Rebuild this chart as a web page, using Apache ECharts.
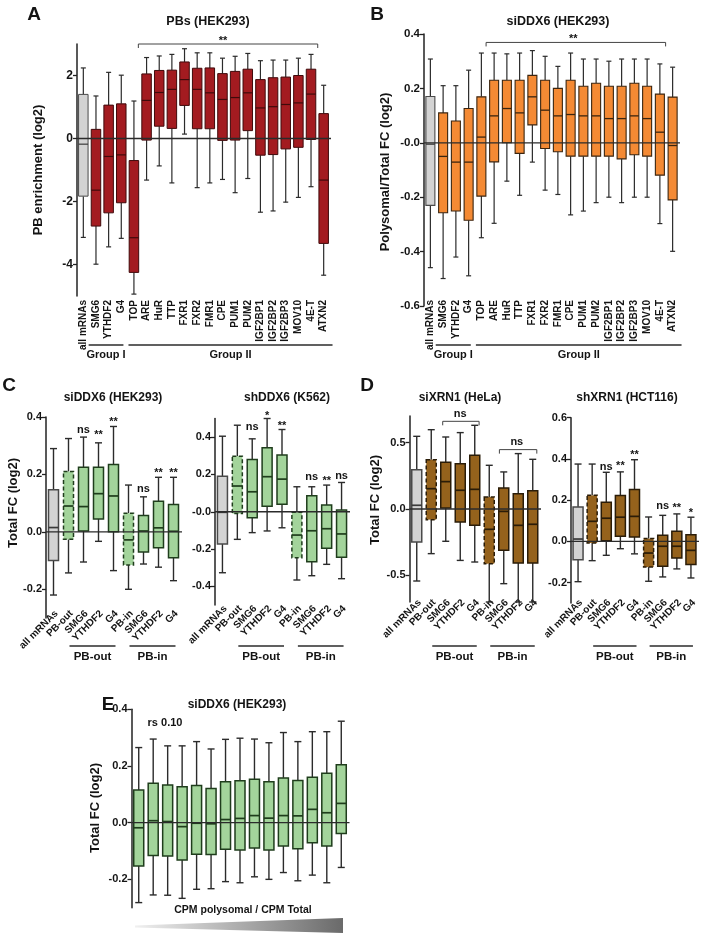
<!DOCTYPE html>
<html><head><meta charset="utf-8">
<script src="https://cdn.jsdelivr.net/npm/echarts@6/dist/echarts.min.js"></script>
<style>html,body{margin:0;padding:0;background:#fff}#c{width:706px;height:938px}</style>
</head><body><div id="c"></div>
<script>
// ---------- DATA ----------
// each box: [lower whisker, Q1, median, Q3, upper whisker]
const catsAB = ['all mRNAs','SMG6','YTHDF2','G4','TOP','ARE','HuR','TTP','FXR1','FXR2','FMR1','CPE','PUM1','PUM2','IGF2BP1','IGF2BP2','IGF2BP3','MOV10','4E-T','ATXN2'];
const boxesA = [
 [-3.14,-1.83,-0.18,1.40,2.24],[-3.99,-2.78,-1.64,0.29,1.35],[-3.44,-2.36,-0.57,1.06,2.10],[-3.17,-2.04,-0.52,1.10,2.01],
 [-4.94,-4.25,-3.15,-0.70,1.19],[-1.32,-0.05,1.21,2.05,2.57],[-0.87,0.39,1.46,2.16,2.62],[-1.41,0.32,1.56,2.17,2.67],
 [0.14,1.05,1.87,2.43,2.85],[-1.56,0.31,1.56,2.23,2.72],[-1.41,0.31,1.45,2.24,2.72],[-1.30,-0.06,1.24,2.06,2.55],
 [-1.72,-0.05,1.30,2.13,2.61],[-1.27,0.25,1.45,2.20,2.70],[-2.34,-0.53,0.97,1.87,2.47],[-2.30,-0.51,1.01,1.93,2.49],
 [-2.02,-0.33,1.08,1.95,2.49],[-1.87,-0.28,1.13,2.00,2.55],[-1.53,-0.03,1.41,2.20,2.67],[-4.34,-3.33,-1.32,0.79,1.69]
];
const boxesB = [
 [-0.459,-0.230,-0.005,0.170,0.308],[-0.499,-0.257,-0.050,0.110,0.210],[-0.420,-0.251,-0.071,0.080,0.210],[-0.489,-0.285,-0.071,0.126,0.267],
 [-0.349,-0.196,0.021,0.169,0.330],[-0.296,-0.070,0.099,0.230,0.330],[-0.141,0.000,0.126,0.230,0.327],[-0.193,-0.039,0.110,0.230,0.330],
 [-0.071,0.066,0.169,0.248,0.339],[-0.174,-0.021,0.120,0.230,0.318],[-0.190,-0.033,0.099,0.200,0.281],[-0.265,-0.049,0.104,0.230,0.330],
 [-0.251,-0.049,0.099,0.208,0.308],[-0.220,-0.049,0.099,0.219,0.308],[-0.200,-0.049,0.089,0.208,0.300],[-0.220,-0.059,0.089,0.208,0.308],
 [-0.200,-0.044,0.099,0.219,0.308],[-0.200,-0.049,0.089,0.208,0.308],[-0.297,-0.119,0.039,0.179,0.290],[-0.399,-0.210,-0.010,0.168,0.278]
];
const catsCD = ['all mRNAs','PB-out','SMG6','YTHDF2','G4','PB-in','SMG6','YTHDF2','G4'];
const boxesC1 = [
 [-0.22,-0.10,0.015,0.147,0.29],[-0.143,-0.026,0.09,0.21,0.325],[-0.105,0.003,0.088,0.225,0.33],[-0.033,0.045,0.133,0.225,0.31],
 [-0.135,0.0,0.125,0.235,0.367],[-0.2,-0.115,-0.028,0.065,0.163],[-0.112,-0.07,0.003,0.057,0.122],[-0.123,-0.055,0.014,0.107,0.19],
 [-0.17,-0.09,0.002,0.095,0.19]
];
const boxesC2 = [
 [-0.327,-0.173,-0.003,0.19,0.405],[-0.148,-0.01,0.138,0.298,0.464],[-0.112,-0.032,0.107,0.28,0.391],[-0.103,0.03,0.188,0.343,0.50],
 [-0.086,0.04,0.175,0.304,0.441],[-0.366,-0.246,-0.125,-0.003,0.134],[-0.343,-0.268,-0.102,0.086,0.134],[-0.282,-0.196,-0.091,0.036,0.143],
 [-0.359,-0.244,-0.119,0.009,0.157]
];
const boxesD1 = [
 [-0.542,-0.248,0.028,0.296,0.547],[-0.336,-0.08,0.153,0.371,0.597],[-0.243,0.008,0.206,0.351,0.542],[-0.387,-0.098,0.141,0.341,0.575],
 [-0.399,-0.123,0.148,0.404,0.63],[-0.70,-0.412,-0.153,0.09,0.329],[-0.562,-0.311,-0.018,0.158,0.279],[-0.70,-0.407,-0.123,0.115,0.417],
 [-0.70,-0.407,-0.115,0.138,0.374]
];
const boxesD2 = [
 [-0.196,-0.089,0.011,0.167,0.375],[-0.094,-0.008,0.097,0.223,0.375],[-0.068,0.003,0.112,0.189,0.335],[-0.036,0.024,0.117,0.222,0.337],
 [-0.061,0.021,0.121,0.251,0.396],[-0.194,-0.125,-0.057,0.013,0.118],[-0.173,-0.121,-0.024,0.029,0.126],[-0.134,-0.081,-0.024,0.049,0.133],
 [-0.178,-0.113,-0.044,0.032,0.117]
];
const catsE = ['1','2','3','4','5','6','7','8','9','10','11','12','13','14','15'];
const boxesE = [
 [-0.282,-0.153,-0.018,0.115,0.265],[-0.255,-0.116,0.007,0.139,0.295],[-0.256,-0.118,0.004,0.133,0.271],[-0.267,-0.132,-0.014,0.127,0.271],
 [-0.235,-0.111,-0.002,0.131,0.286],[-0.233,-0.112,-0.004,0.121,0.26],[-0.208,-0.094,0.011,0.144,0.294],[-0.212,-0.096,0.015,0.148,0.298],
 [-0.191,-0.089,0.025,0.153,0.295],[-0.2,-0.096,0.016,0.144,0.282],[-0.176,-0.082,0.025,0.158,0.318],[-0.205,-0.092,0.024,0.149,0.286],
 [-0.185,-0.071,0.047,0.16,0.321],[-0.212,-0.082,0.035,0.174,0.321],[-0.158,-0.038,0.068,0.204,0.358]
];
// tick values
const ticksA = [-4,-2,0,2];
const ticksB = [-0.6,-0.4,-0.2,0,0.2,0.4];
const ticksC1 = [-0.2,0,0.2,0.4];
const ticksC2 = [-0.4,-0.2,0,0.2,0.4];
const ticksD1 = [-0.5,0,0.5];
const ticksD2 = [-0.2,0,0.2,0.4,0.6];
const ticksE = [-0.2,0,0.2,0.4];
// significance marks: [category index, y value, text]
const sigC1 = [[2,0.354,'ns'],[3,0.347,'**'],[4,0.392,'**'],[6,0.148,'ns'],[7,0.215,'**'],[8,0.215,'**']];
const sigC2 = [[2,0.454,'ns'],[3,0.529,'*'],[4,0.475,'**'],[6,0.186,'ns'],[7,0.18,'**'],[8,0.191,'ns']];
const sigD2 = [[2,0.359,'ns'],[3,0.38,'**'],[4,0.434,'**'],[6,0.17,'ns'],[7,0.178,'**'],[8,0.154,'*']];
// brackets: [from index, to index, y value, text, text index, text y]
const bracketA = [[4.35,18.53,3.0,'**',11.05,3.2]];
const bracketB = [[4.37,18.45,0.369,'**',11.2,0.391]];
const bracketD1 = [[1.79,4.3,0.66,'ns',3.0,0.713],[5.7,8.28,0.447,'ns',6.9,0.505]];

// ---------- STYLE / LAYOUT ----------
const FONT = '"Liberation Sans", Arial, sans-serif';
const INK = '#141414';
const fmt1 = v => (Math.abs(v) < 1e-9 ? '0.0' : v.toFixed(1));
const fmtNeg0 = v => (Math.abs(v) < 1e-9 ? '-0.0' : v.toFixed(1));
const panels = [
 {grid:{left:77,top:44,width:253,height:252}, cats:catsAB, boxes:boxesA, min:-5, max:3, ticks:ticksA, fmt:v=>String(v), fs:12,
  fill:'#A31B20', stroke:'#3f0a0b', bw:9.5, cw:5, lw:1, wlw:1.2, gray:[0], dashed:[], rot:90, margin:4, axLab:true},
 {grid:{left:424,top:34,width:255,height:272}, cats:catsAB, boxes:boxesB, min:-0.6, max:0.4, ticks:ticksB, fmt:fmtNeg0, fs:11.5,
  fill:'#F48A34', stroke:'#3a2510', bw:9, cw:5, lw:1.1, wlw:1.2, gray:[0], dashed:[], rot:90, margin:-6, axLab:true},
 {grid:{left:46,top:417,width:135,height:201}, cats:catsCD, boxes:boxesC1, min:-0.3, max:0.4, ticks:ticksC1, fmt:fmt1, fs:11,
  fill:'#A3D49B', stroke:'#1f3d1c', bw:10, cw:7, lw:1.5, wlw:1.4, gray:[0], dashed:[1,5], labY:612},
 {grid:{left:215,top:418.5,width:134,height:186.5}, cats:catsCD, boxes:boxesC2, min:-0.5, max:0.5, ticks:ticksC2, fmt:fmtNeg0, fs:11,
  fill:'#A3D49B', stroke:'#1f3d1c', bw:10, cw:7, lw:1.5, wlw:1.4, gray:[0], dashed:[1,5], labY:607},
 {grid:{left:409.5,top:416,width:130.5,height:186}, cats:catsCD, boxes:boxesD1, min:-0.7, max:0.7, ticks:ticksD1, fmt:fmt1, fs:11,
  fill:'#95621C', stroke:'#2a1c08', bw:10, cw:7, lw:1.5, wlw:1.4, gray:[0], dashed:[1,5], labY:601},
 {grid:{left:571,top:417.7,width:127,height:185.4}, cats:catsCD, boxes:boxesD2, min:-0.3, max:0.6, ticks:ticksD2, fmt:fmt1, fs:11,
  fill:'#95621C', stroke:'#2a1c08', bw:10, cw:7, lw:1.5, wlw:1.4, gray:[0], dashed:[1,5], labY:601},
 {grid:{left:131.5,top:709.3,width:217,height:198.4}, cats:catsE, boxes:boxesE, min:-0.3, max:0.4, ticks:ticksE, fmt:fmt1, fs:11,
  fill:'#A3D49B', stroke:'#1f3d1c', bw:10, cw:7, lw:1.5, wlw:1.4, gray:[], dashed:[]}
];

function boxRenderer(p) {
  return function (params, api) {
    const i = api.value(0);
    const c = v => api.coord([i, v]);
    const lo = c(api.value(1)), q1 = c(api.value(2)), md = c(api.value(3)), q3 = c(api.value(4)), hi = c(api.value(5));
    const x = lo[0];
    const idx = params.dataIndex;
    const gray = p.gray.indexOf(idx) >= 0;
    const dashed = p.dashed.indexOf(idx) >= 0;
    const ws = {stroke:'#2b2b2b', lineWidth:p.wlw};
    const bs = {fill: gray ? '#D3D3D3' : p.fill, stroke: gray ? '#4a4a4a' : p.stroke, lineWidth:p.lw};
    if (dashed) bs.lineDash = [4, 2.5];
    return {type:'group', children:[
      {type:'line', shape:{x1:x,y1:hi[1],x2:x,y2:q3[1]}, style:ws},
      {type:'line', shape:{x1:x-p.cw/2,y1:hi[1],x2:x+p.cw/2,y2:hi[1]}, style:ws},
      {type:'line', shape:{x1:x,y1:q1[1],x2:x,y2:lo[1]}, style:ws},
      {type:'line', shape:{x1:x-p.cw/2,y1:lo[1],x2:x+p.cw/2,y2:lo[1]}, style:ws},
      {type:'rect', shape:{x:x-p.bw/2,y:q3[1],width:p.bw,height:q1[1]-q3[1]}, style:bs},
      {type:'line', shape:{x1:x-p.bw/2,y1:md[1],x2:x+p.bw/2,y2:md[1]}, style:{stroke: gray ? '#3a3a3a' : p.stroke, lineWidth:p.lw+0.2}}
    ]};
  };
}
function zeroRenderer(params, api) {
  const cs = params.coordSys;
  const y = api.coord([0, 0])[1];
  return {type:'line', shape:{x1:cs.x, y1:y, x2:cs.x+cs.width+1, y2:y}, style:{stroke:'#2b2b2b', lineWidth:1.3}};
}

const grids = [], xAxes = [], yAxes = [], series = [];
panels.forEach((p, k) => {
  grids.push(Object.assign({show:false}, p.grid));
  xAxes.push({type:'category', gridIndex:k, data:p.cats, boundaryGap:true,
    axisLine:{show:false}, axisTick:{show:false},
    axisLabel: p.axLab ? {show:true, interval:0, rotate:p.rot, margin:p.margin, color:INK, fontSize:10, fontWeight:'bold', fontFamily:FONT} : {show:false},
    splitLine:{show:false}});
  yAxes.push({type:'value', gridIndex:k, min:p.min, max:p.max,
    axisLine:{show:true, lineStyle:{color:'#222', width:1.5}},
    axisTick:{show:true, length:4, customValues:p.ticks, lineStyle:{color:'#222', width:1.3}},
    axisLabel:{show:true, customValues:p.ticks, formatter:p.fmt, margin:4, color:INK, fontSize:p.fs, fontWeight:'bold', fontFamily:FONT},
    splitLine:{show:false}});
  series.push({type:'custom', xAxisIndex:k, yAxisIndex:k, renderItem:boxRenderer(p), z:2,
    encode:{x:0, y:[1,2,3,4,5]}, data:p.boxes.map((b,i)=>[i].concat(b)), silent:true});
  series.push({type:'custom', xAxisIndex:k, yAxisIndex:k, renderItem:zeroRenderer, z:3, encode:{x:0,y:1}, data:[[0,0]], silent:true});
});

const chart = echarts.init(document.getElementById('c'));
chart.setOption({animation:false, backgroundColor:'#fff', grid:grids, xAxis:xAxes, yAxis:yAxes, series:series});

// ---------- ANNOTATIONS ----------
const G = [];
function txt(x, y, t, size, rot, align) {
  G.push({type:'text', x:x, y:y, rotation:rot||0, silent:true,
    style:{text:t, font:'bold '+size+'px '+FONT, fill:INK, textAlign:align||'center', textVerticalAlign:'middle', textBaseline:'middle'}});
}
function line(x1,y1,x2,y2,w) { G.push({type:'line', silent:true, shape:{x1,y1,x2,y2}, style:{stroke:'#2b2b2b', lineWidth:w||1.3}}); }
function px(k, i, v) {
  const a = chart.convertToPixel({gridIndex:k}, [0, v]);
  const b = chart.convertToPixel({gridIndex:k}, [1, v]);
  return [a[0] + i*(b[0]-a[0]), a[1]];
}
const starShift = t => (t.indexOf('*') >= 0 ? 3 : 0);
// titles
txt(208,22,'PBs (HEK293)',12.5); txt(558,22,'siDDX6 (HEK293)',12.5);
txt(113,398,'siDDX6 (HEK293)',12); txt(287,398,'shDDX6 (K562)',12);
txt(460,398,'siXRN1 (HeLa)',12); txt(627,398,'shXRN1 (HCT116)',12);
txt(237,705,'siDDX6 (HEK293)',12);
// panel letters
txt(34,15,'A',19); txt(377,15,'B',19); txt(9,386,'C',19); txt(367,386,'D',19); txt(108,705,'E',19);
// y-axis names
txt(38,170,'PB enrichment (log2)',13,Math.PI/2);
txt(385,172,'Polysomal/Total FC (log2)',13,Math.PI/2);
txt(13,503,'Total FC (log2)',13,Math.PI/2);
txt(375,500,'Total FC (log2)',13,Math.PI/2);
txt(95,808,'Total FC (log2)',13,Math.PI/2);
// brackets
[[0,bracketA],[1,bracketB],[4,bracketD1]].forEach(([k, list]) => {
  list.forEach(b => {
    const p1 = px(k,b[0],b[2]), p2 = px(k,b[1],b[2]);
    G.push({type:'polyline', silent:true, shape:{points:[[p1[0],p1[1]+4],[p1[0],p1[1]],[p2[0],p2[1]],[p2[0],p2[1]+4]]}, style:{stroke:'#444', lineWidth:1, fill:null}});
    const t = px(k,b[4],b[5]);
    txt(t[0], t[1]+starShift(b[3]), b[3], 11);
  });
});
// significance
[[2,sigC1],[3,sigC2],[5,sigD2]].forEach(([k, list]) => {
  list.forEach(s => { const t = px(k,s[0],s[1]); txt(t[0], t[1]+starShift(s[2]), s[2], 11); });
});
// rotated category labels for C/D + group lines
[2,3,4,5].forEach(k => {
  const p = panels[k];
  p.cats.forEach((c, i) => { const t = px(k,i,0); txt(t[0]+3, p.labY, c, 10, Math.PI/4, 'right'); });
  const a1 = px(k,1,0)[0], a4 = px(k,4,0)[0], b5 = px(k,5,0)[0], b8 = px(k,8,0)[0];
  line(a1+1,646,a4+2,646,1.5); txt((a1+a4)/2+1.5,657,'PB-out',11.5);
  line(b5+1,646,b8+2,646,1.5); txt((b5+b8)/2+1.5,657,'PB-in',11.5);
});
// group lines A/B
[0,1].forEach(k => {
  const g1 = px(k,0.42,0)[0], g2 = px(k,3.17,0)[0], h1 = px(k,3.57,0)[0], h2 = px(k,19.7,0)[0];
  line(g1,345,g2,345,1.5); txt((g1+g2)/2,355,'Group I',11);
  line(h1,345,h2,345,1.5); txt((h1+h2)/2,355,'Group II',11);
});
// panel E extras
txt(165,723,'rs 0.10',11);
txt(243,910,'CPM polysomal / CPM Total',10.5);
G.push({type:'polygon', silent:true, shape:{points:[[135,925.5],[343,918],[343,933],[135,927.5]]},
  style:{fill:{type:'linear',x:0,y:0,x2:1,y2:0,colorStops:[{offset:0,color:'#f0f0f0'},{offset:1,color:'#6a6a6a'}]}}});

chart.setOption({graphic:{elements:G}});
</script>
</body></html>
